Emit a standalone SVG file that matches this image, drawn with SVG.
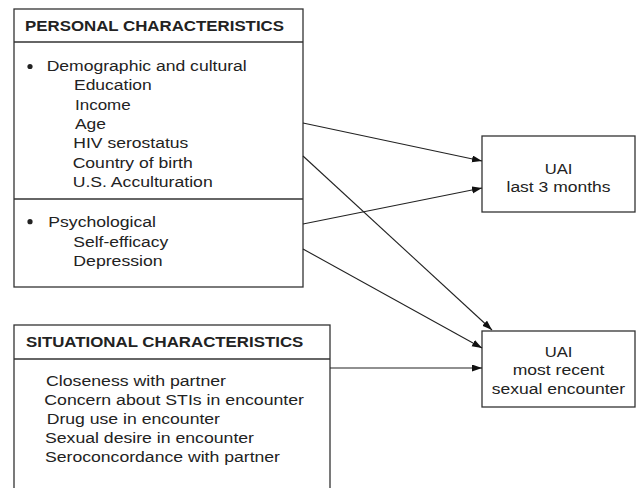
<svg xmlns="http://www.w3.org/2000/svg" width="636" height="488" viewBox="0 0 636 488">
<style>
.box{fill:#fff;stroke:#333;stroke-width:1.3}
.div{stroke:#333;stroke-width:1.3}
.t{font-family:"Liberation Sans",Arial,sans-serif;font-size:15.5px;fill:#222}
.h{font-family:"Liberation Sans",Arial,sans-serif;font-size:14.5px;font-weight:bold;fill:#222}
.c{text-anchor:middle}
.ln{stroke:#222;stroke-width:1.1;fill:none;marker-end:url(#ah)}
</style>
<defs>
<marker id="ah" markerUnits="userSpaceOnUse" markerWidth="11" markerHeight="8" refX="10" refY="3.5" orient="auto">
<path d="M0,0 L10,3.5 L0,7 z" fill="#111"/>
</marker>
</defs>
<rect width="636" height="488" fill="#fff"/>
<g id="personal">
<rect class="box" x="14" y="9" width="289" height="278"/>
<line class="div" x1="14" y1="42" x2="303" y2="42"/>
<line class="div" x1="14" y1="199" x2="303" y2="199"/>
<text class="h" x="25" y="30.5" textLength="259" lengthAdjust="spacingAndGlyphs">PERSONAL CHARACTERISTICS</text>
<circle cx="30" cy="66.5" r="2.6" fill="#222"/>
<text class="t" x="46.7" y="71" textLength="200" lengthAdjust="spacingAndGlyphs">Demographic and cultural</text>
<text class="t" x="74" y="90.3" textLength="77.7" lengthAdjust="spacingAndGlyphs">Education</text>
<text class="t" x="75" y="109.6" textLength="55.7" lengthAdjust="spacingAndGlyphs">Income</text>
<text class="t" x="75" y="128.9" textLength="31" lengthAdjust="spacingAndGlyphs">Age</text>
<text class="t" x="73.3" y="148.2" textLength="115" lengthAdjust="spacingAndGlyphs">HIV serostatus</text>
<text class="t" x="72.7" y="167.5" textLength="120" lengthAdjust="spacingAndGlyphs">Country of birth</text>
<text class="t" x="72.7" y="186.8" textLength="140" lengthAdjust="spacingAndGlyphs">U.S. Acculturation</text>
<circle cx="30" cy="221.7" r="2.6" fill="#222"/>
<text class="t" x="48.3" y="226.7" textLength="107.7" lengthAdjust="spacingAndGlyphs">Psychological</text>
<text class="t" x="73.3" y="246.5" textLength="95" lengthAdjust="spacingAndGlyphs">Self-efficacy</text>
<text class="t" x="73.3" y="266" textLength="89.4" lengthAdjust="spacingAndGlyphs">Depression</text>
</g>
<g id="situational">
<rect class="box" x="14" y="325" width="316" height="170"/>
<line class="div" x1="14" y1="359" x2="330" y2="359"/>
<text class="h" x="26" y="346.7" textLength="277.3" lengthAdjust="spacingAndGlyphs">SITUATIONAL CHARACTERISTICS</text>
<text class="t" x="46" y="386" textLength="180" lengthAdjust="spacingAndGlyphs">Closeness with partner</text>
<text class="t" x="44.3" y="405" textLength="259.7" lengthAdjust="spacingAndGlyphs">Concern about STIs in encounter</text>
<text class="t" x="46.7" y="423.5" textLength="173.3" lengthAdjust="spacingAndGlyphs">Drug use in encounter</text>
<text class="t" x="45" y="442.5" textLength="209" lengthAdjust="spacingAndGlyphs">Sexual desire in encounter</text>
<text class="t" x="45" y="461.7" textLength="235" lengthAdjust="spacingAndGlyphs">Seroconcordance with partner</text>
</g>
<g id="uai-last3">
<rect class="box" x="482" y="136" width="153" height="76"/>
<text class="t c" x="558.5" y="174" textLength="27.7" lengthAdjust="spacingAndGlyphs">UAI</text>
<text class="t c" x="558.5" y="191.7" textLength="104" lengthAdjust="spacingAndGlyphs">last 3 months</text>
</g>
<g id="uai-recent">
<rect class="box" x="482" y="331" width="153" height="76"/>
<text class="t c" x="558.5" y="356.7" textLength="27.7" lengthAdjust="spacingAndGlyphs">UAI</text>
<text class="t c" x="558.5" y="375" textLength="91.7" lengthAdjust="spacingAndGlyphs">most recent</text>
<text class="t c" x="558.5" y="394" textLength="133.3" lengthAdjust="spacingAndGlyphs">sexual encounter</text>
</g>
<g id="connectors">
<line class="ln" x1="303" y1="123" x2="482" y2="161"/>
<line class="ln" x1="303" y1="156" x2="492" y2="330"/>
<line class="ln" x1="303" y1="224" x2="482" y2="188"/>
<line class="ln" x1="303" y1="249" x2="482" y2="348"/>
<line class="ln" x1="330" y1="368" x2="482" y2="368"/>
</g>
</svg>
